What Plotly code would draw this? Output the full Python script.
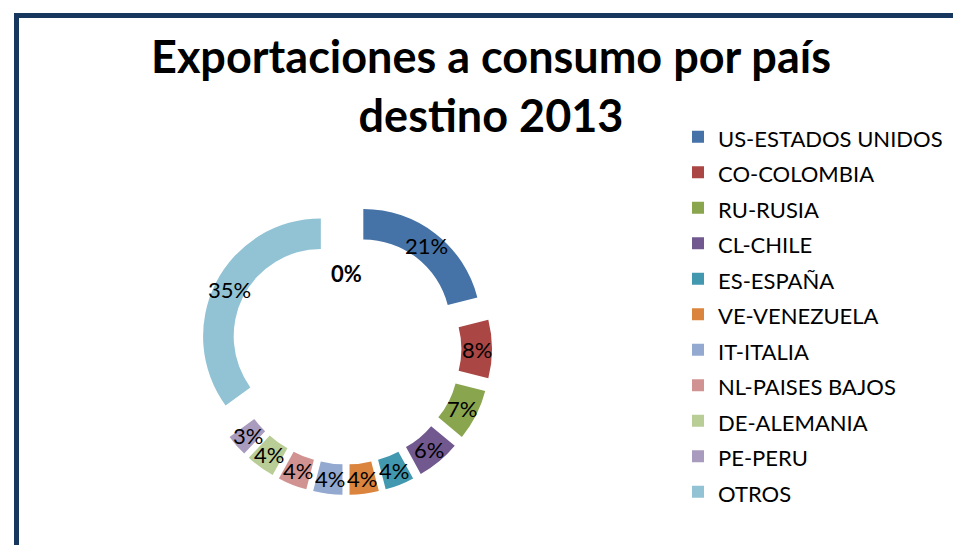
import math
import plotly.graph_objects as go

countries = ["US-ESTADOS UNIDOS", "CO-COLOMBIA", "RU-RUSIA", "CL-CHILE", "ES-ESPAÑA",
             "VE-VENEZUELA", "IT-ITALIA", "NL-PAISES BAJOS", "DE-ALEMANIA", "PE-PERU", "OTROS"]
shares = [21, 8, 7, 6, 4, 4, 4, 4, 4, 3, 35]
colors = ["#4572A7", "#AA4643", "#89A54E", "#71588F", "#4198AF", "#DB843D",
          "#93A9CF", "#D19392", "#B9CD96", "#A99BBD", "#91C3D5"]
title_text = "Exportaciones a consumo por país<br>destino 2013"
center_label = "0%"

W, H = 961, 545
FONT = "Lato, 'Open Sans', sans-serif"

HOLE = 0.74
PULL = 0.24
CX, CY, HALF = 338, 341, 146          # pie box centre / half size in px
dom_x = [(CX - HALF) / W, (CX + HALF) / W]
dom_y = [(H - CY - HALF) / H, (H - CY + HALF) / H]
ext = 1 + PULL                          # axis units: 1 = pie radius

# legend rows are spaced by the legend font size; the text itself is drawn a bit smaller
legend_names = [f"<span style='font-size:22px'>{c}</span>" for c in countries]

fig = go.Figure(go.Pie(
    labels=legend_names,
    values=shares,
    marker=dict(colors=colors, line=dict(width=0)),
    sort=False,
    direction="clockwise",
    rotation=0,
    hole=HOLE,
    pull=[PULL] * len(shares),
    textinfo="none",
    hovertext=countries,
    hoverinfo="text+percent",
    domain=dict(x=dom_x, y=dom_y),
))

# percentage labels at the middle of each (pulled) ring segment, via invisible axes
total = sum(shares)
r_lab = PULL + (1 + HOLE) / 2
lab_x, lab_y, lab_t = [], [], []
cum = 0
for v in shares:
    ang = math.radians((cum + v / 2) / total * 360)
    cum += v
    lab_x.append(r_lab * math.sin(ang))
    lab_y.append(r_lab * math.cos(ang))
    lab_t.append(f"{round(v / total * 100)}%")

fig.add_trace(go.Scatter(x=lab_x, y=lab_y, mode="none", showlegend=False, hoverinfo="skip"))

annotations = [dict(text=t, x=x, y=y, xref="x", yref="y", showarrow=False,
                    font=dict(family=FONT, size=22, color="black"))
               for x, y, t in zip(lab_x, lab_y, lab_t)]
annotations.append(dict(text=center_label, x=0, y=0.64, xref="x", yref="y", showarrow=False,
                        font=dict(family=FONT, size=22, color="black", weight="bold")))

fig.update_layout(
    width=W, height=H,
    margin=dict(l=0, r=0, t=0, b=0, autoexpand=False),
    paper_bgcolor="white",
    plot_bgcolor="rgba(0,0,0,0)",
    font=dict(family=FONT, color="black"),
    xaxis=dict(domain=dom_x, range=[-ext, ext], visible=False, fixedrange=True),
    yaxis=dict(domain=dom_y, range=[-ext, ext], visible=False, fixedrange=True),
    title=dict(text=title_text, x=483 / W, xanchor="center", y=1 - 65 / H, yanchor="top",
               font=dict(family=FONT, size=45, color="black", weight="bold")),
    legend=dict(x=670 / W, xanchor="left", y=1 - 106 / H, yanchor="top",
                font=dict(family=FONT, size=25, color="black"),
                bgcolor="rgba(0,0,0,0)", traceorder="normal"),
    showlegend=True,
    shapes=[dict(type="rect", xref="paper", yref="paper",
                 x0=8.5 / W, x1=1.05, y0=-0.05, y1=1 - 7.5 / H,
                 line=dict(color="#17375E", width=5), fillcolor="rgba(0,0,0,0)")],
    annotations=annotations,
)

fig.write_html("out.html")
